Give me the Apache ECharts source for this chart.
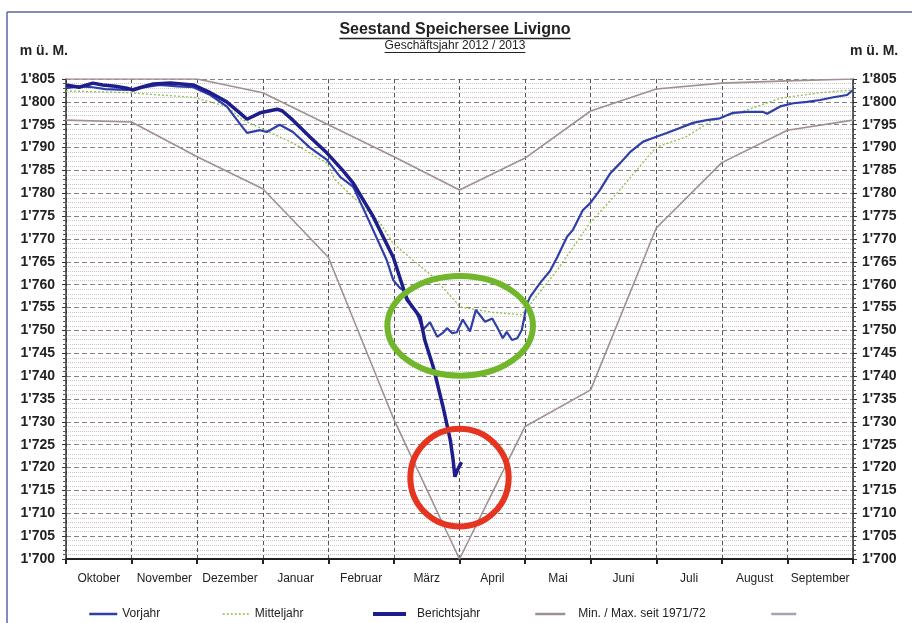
<!DOCTYPE html>
<html>
<head>
<meta charset="utf-8">
<title>Seestand Speichersee Livigno</title>
<script src="https://cdn.jsdelivr.net/npm/echarts@6/dist/echarts.min.js"></script>
<style>
html, body { margin: 0; padding: 0; background: #fff; }
#chart { width: 912px; height: 623px; }
</style>
</head>
<body>
<div id="chart"></div>
<script>
// Monate (x = Monate seit 1. Oktober)
var months = ['Oktober', 'November', 'Dezember', 'Januar', 'Februar', 'März', 'April', 'Mai', 'Juni', 'Juli', 'August', 'September'];

var berichtsjahr = [[0.0,1803.7],[0.2,1803.2],[0.41,1804.1],[0.56,1803.7],[0.75,1803.4],[0.93,1803.0],[1.02,1802.6],[1.15,1803.2],
    [1.33,1803.9],[1.59,1804.1],[1.94,1803.7],[2.2,1802.0],[2.45,1800.0],[2.65,1797.6],[2.76,1796.2],[2.96,1797.6],[3.22,1798.4],
    [3.3,1798.0],[3.46,1796.0],[3.72,1792.3],[3.98,1788.8],[4.22,1785.0],[4.38,1782.2],[4.68,1775.0],[4.99,1766.0],[5.2,1756.7],
    [5.4,1752.9],[5.47,1747.9],[5.6,1742.0],[5.75,1733.2],[5.86,1726.0],[5.9,1722.0],[5.93,1718.0],[5.97,1719.5],[6.03,1721.2]];

var vorjahr = [[0,1803.0],[0.2,1803.4],[0.41,1803.2],[0.6,1802.8],[0.93,1802.6],[1.1,1803.0],[1.43,1803.7],[1.7,1803.4],[1.94,1803.2],
    [2.2,1801.5],[2.45,1799.0],[2.7,1794.3],[2.76,1793.2],[2.96,1793.8],[3.06,1793.4],[3.26,1795.0],[3.46,1793.4],[3.72,1790.0],
    [3.98,1787.3],[4.18,1783.6],[4.38,1781.4],[4.59,1774.9],[4.89,1765.4],[4.99,1761.0],[5.09,1759.3],[5.14,1758.8],[5.25,1756.0],
    [5.35,1753.8],[5.44,1750.1],[5.55,1751.8],[5.66,1748.6],[5.75,1749.5],[5.81,1750.5],[5.89,1749.4],[5.96,1749.6],[6.05,1752.4],
    [6.16,1749.8],[6.25,1754.5],[6.28,1754.8],[6.39,1751.9],[6.5,1752.6],[6.57,1750.8],[6.66,1748.3],[6.72,1749.7],[6.8,1747.9],
    [6.88,1748.3],[6.95,1750.1],[7.03,1755.9],[7.08,1757.4],[7.23,1760.4],[7.38,1763.0],[7.49,1766.0],[7.64,1770.5],[7.73,1772.0],
    [7.88,1776.3],[7.99,1777.8],[8.14,1780.7],[8.3,1784.4],[8.45,1786.6],[8.6,1789.0],[8.8,1791.3],[8.95,1792.1],[9.16,1793.2],
    [9.36,1794.3],[9.56,1795.4],[9.77,1796.0],[9.97,1796.4],[10.17,1797.6],[10.38,1797.8],[10.63,1797.8],[10.69,1797.4],
    [10.89,1799.0],[11.09,1799.7],[11.3,1800.0],[11.5,1800.4],[11.7,1801.0],[11.91,1801.5],[12,1802.6]];

var mitteljahr = [[0,1802.4],[0.93,1802.0],[1.94,1801.0],[2.45,1799.0],[2.7,1796.0],[2.96,1794.3],[3.46,1791.0],[3.98,1786.6],
    [4.1,1783.0],[4.79,1773.5],[4.99,1769.0],[5.29,1765.4],[5.6,1761.7],[5.96,1756.0],[6.01,1755.1],[6.5,1754.0],[6.95,1753.4],
    [7.49,1763.2],[7.99,1773.5],[8.4,1780.0],[9.0,1790.1],[9.45,1792.3],[9.86,1796.0],[10.38,1798.2],[10.89,1800.8],[11.5,1802.0],[12,1802.6]];

var maxSeit1971 = [[0,1805],[2,1805],[3,1802],[4,1795],[5,1788],[6,1780.7],[7,1787.7],[8,1798],[9,1802.8],[10,1804.1],[11,1804.6],[12,1805]];
var minSeit1971 = [[0,1796],[1,1795.6],[2,1788],[3,1781],[4,1766],[5,1730.5],[6,1700],[7,1729],[8,1737],[9,1772.4],[10,1786.7],[11,1793.8],[12,1796]];

var yMin = 1700, yMax = 1805, yStep = 5;

var chart = echarts.init(document.getElementById('chart'));

var labelFont = 'Liberation Sans, Arial, sans-serif';
function fmt(v) { var s = String(v); return s.charAt(0) + '\'' + s.slice(1); }

var option = {
    animation: false,
    backgroundColor: '#fff',
    grid: { left: 66, right: 59, top: 79, bottom: 64 },
    legend: [
        { left: 83, data: ['Vorjahr'], itemWidth: 28, lineStyle: { width: 2.5 } },
        { left: 217, data: ['Mitteljahr'], itemWidth: 27, lineStyle: { width: 1.5 } },
        { left: 366, data: ['Berichtsjahr'], itemWidth: 33, lineStyle: { width: 4 }, textStyle: { padding: [0, 0, 0, 6] } },
        { left: 529, data: ['Min. / Max. seit 1971/72'], itemWidth: 30, lineStyle: { width: 2.5 }, textStyle: { padding: [0, 0, 0, 8] } },
        { left: 765, data: [' '], itemWidth: 25, lineStyle: { width: 2.5 } }
    ].map(function (l) {
        l.top = 603;
        l.itemHeight = 12;
        l.itemGap = 0;
        l.itemStyle = { opacity: 0 };
        l.textStyle = Object.assign({ fontSize: 12, color: '#222', fontFamily: labelFont }, l.textStyle || {});
        return l;
    }),
    xAxis: [
        {
            type: 'value', min: 0, max: 12, interval: 1,
            axisLine: { show: true, onZero: false, lineStyle: { color: '#222', width: 2 } },
            axisTick: { show: true, length: 5, lineStyle: { color: '#222', width: 2 } },
            axisLabel: { show: false },
            splitLine: { show: true, lineStyle: { color: '#555', type: [4, 3], width: 1 } }
        },
        {
            type: 'category', data: months, boundaryGap: true, position: 'bottom',
            axisLine: { show: false }, axisTick: { show: false }, splitLine: { show: false },
            axisLabel: { interval: 0, fontSize: 12, color: '#222', fontFamily: labelFont, margin: 14 }
        }
    ],
    yAxis: [
        {
            type: 'value', min: yMin, max: yMax, interval: yStep, position: 'left',
            name: 'm ü. M.', nameLocation: 'end', nameGap: 21,
            nameTextStyle: { fontWeight: 'bold', fontSize: 14, color: '#222', fontFamily: labelFont, align: 'right', padding: [0, -2, 0, 0] },
            axisLine: { show: true, lineStyle: { color: '#333', width: 1.5 } },
            axisTick: { show: true, length: 4, lineStyle: { color: '#333' } },
            minorTick: { show: true, splitNumber: 5, length: 3, lineStyle: { color: '#555' } },
            axisLabel: { formatter: fmt, fontWeight: 'bold', fontSize: 14, color: '#222', fontFamily: labelFont, margin: 11 },
            splitLine: { show: true, lineStyle: { color: '#8c8088', type: [5, 3], width: 1 } },
            minorSplitLine: { show: true, lineStyle: { color: '#cec6ce', type: [1, 1], width: 1 } }
        },
        {
            type: 'value', min: yMin, max: yMax, interval: yStep, position: 'right',
            name: 'm ü. M.', nameLocation: 'end', nameGap: 21,
            nameTextStyle: { fontWeight: 'bold', fontSize: 14, color: '#222', fontFamily: labelFont, align: 'left', padding: [0, 0, 0, -3] },
            axisLine: { show: true, lineStyle: { color: '#333', width: 1.5 } },
            axisTick: { show: true, length: 4, lineStyle: { color: '#333' } },
            minorTick: { show: true, splitNumber: 5, length: 3, lineStyle: { color: '#555' } },
            axisLabel: { formatter: fmt, fontWeight: 'bold', fontSize: 14, color: '#222', fontFamily: labelFont, margin: 9 },
            splitLine: { show: false }
        }
    ],
    series: [
        { name: 'Min. / Max. seit 1971/72', type: 'line', data: maxSeit1971, symbol: 'none', lineStyle: { color: '#a0908f', width: 1.6 }, itemStyle: { color: '#a0908f' }, z: 2 },
        { name: 'Min. / Max. seit 1971/72', type: 'line', data: minSeit1971, symbol: 'none', lineStyle: { color: '#a0908f', width: 1.6 }, itemStyle: { color: '#a0908f' }, z: 2 },
        { name: 'Mitteljahr', type: 'line', data: mitteljahr, symbol: 'none', lineStyle: { color: '#8cc04a', width: 1.3, type: [2, 2] }, itemStyle: { color: '#8cc04a' }, z: 3 },
        { name: 'Vorjahr', type: 'line', data: vorjahr, symbol: 'none', lineStyle: { color: '#2f3fa8', width: 2.2 }, itemStyle: { color: '#2f3fa8' }, z: 4 },
        { name: 'Berichtsjahr', type: 'line', data: berichtsjahr, symbol: 'none', lineStyle: { color: '#1d1d8c', width: 3.5 }, itemStyle: { color: '#1d1d8c' }, z: 5 },
        { name: ' ', type: 'line', data: [], symbol: 'none', lineStyle: { color: '#a8a2b4', width: 2 }, itemStyle: { color: '#a8a2b4' } }
    ]
};
chart.setOption(option);

// Titel mit Unterstreichung
var ctx = document.createElement('canvas').getContext('2d');
function textWidth(font, s) { ctx.font = font; return ctx.measureText(s).width; }
var title = 'Seestand Speichersee Livigno', sub = 'Geschäftsjahr 2012 / 2013';
var titleFont = 'bold 16px Liberation Sans, Arial', subFont = '12px Liberation Sans, Arial';
var tw = textWidth(titleFont, title), sw = textWidth(subFont, sub);
var cx = 455;

// Markierungen (Ellipsen) in Datenkoordinaten
var marks = [
    { center: [6.01, 1751], rx: 1.11, ry: 10.9, color: '#72b62c' },
    { center: [6.0, 1717.8], rx: 0.75, ry: 10.7, color: '#e5341f' }
];
var ellipses = marks.map(function (m) {
    var c = chart.convertToPixel({ xAxisIndex: 0, yAxisIndex: 0 }, m.center);
    var e = chart.convertToPixel({ xAxisIndex: 0, yAxisIndex: 0 }, [m.center[0] + m.rx, m.center[1] + m.ry]);
    return {
        type: 'ellipse', z: 100,
        shape: { cx: c[0], cy: c[1], rx: Math.abs(e[0] - c[0]), ry: Math.abs(c[1] - e[1]) },
        style: { fill: null, stroke: m.color, lineWidth: 6 }
    };
});

chart.setOption({
    graphic: [
        { type: 'line', shape: { x1: 7, y1: 12, x2: 912, y2: 12 }, style: { stroke: '#5a68a0', lineWidth: 1.5 } },
        { type: 'line', shape: { x1: 7, y1: 12, x2: 7, y2: 623 }, style: { stroke: '#5a68a0', lineWidth: 1.5 } },
        { type: 'text', x: cx, y: 30, style: { text: title, font: titleFont, fill: '#222', align: 'center', verticalAlign: 'middle' } },
        { type: 'line', shape: { x1: cx - tw / 2, y1: 38.5, x2: cx + tw / 2, y2: 38.5 }, style: { stroke: '#222', lineWidth: 1.5 } },
        { type: 'text', x: cx, y: 46, style: { text: sub, font: subFont, fill: '#222', align: 'center', verticalAlign: 'middle' } },
        { type: 'line', shape: { x1: cx - sw / 2, y1: 52.5, x2: cx + sw / 2, y2: 52.5 }, style: { stroke: '#222', lineWidth: 1 } }
    ].concat(ellipses)
});
</script>
</body>
</html>
